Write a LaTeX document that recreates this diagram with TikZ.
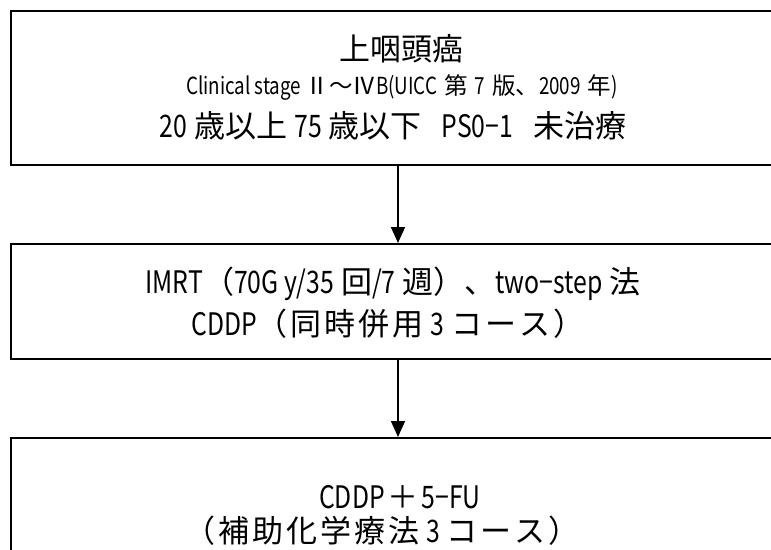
\documentclass[tikz,border=0pt]{standalone}
\usepackage{fontspec}
\setmainfont{Noto Sans CJK JP}
\newfontfamily\latnfont[FakeStretch=0.8]{Noto Sans CJK JP}
\newcommand\la[1]{{\latnfont #1}}
\newcommand\ks{\hspace{3pt}}
\newcommand\ws{\hspace{7pt}}
\usetikzlibrary{arrows.meta}
\begin{document}
\begin{tikzpicture}[x=1pt,y=-1pt,
  box/.style={draw, line width=2pt, minimum width=774pt, inner sep=0pt},
  big/.style={font=\fontsize{31}{34}\selectfont, inner sep=0pt},
  small/.style={font=\fontsize{23.5}{26}\selectfont, inner sep=0pt},
  flow/.style={line width=1.6pt, -{Triangle[width=14pt,length=16pt]}}]
\path[use as bounding box] (0,0) rectangle (771,549);
\clip (0,0) rectangle (771,549);
\node[box, minimum height=154pt] (b1) at (398,88) {};
\node[box, minimum height=115pt] (b2) at (398,301.5) {};
\node[box, minimum height=156pt] (b3) at (398,516) {};
\node[big] (t11) at (401,49) {上咽頭癌};
\node[small] (t12) at (402,88) {\la{Clinical stage }Ⅱ〜Ⅳ\la{B(UICC}\ws 第\ws\la{7}\ws 版、\la{2009}\ws 年\la{)}};
\node[big] (t13) at (393,126) {\la{20}\ws 歳以上\ws\la{75}\ws 歳以下\hspace{20pt}\la{PS0−1}\hspace{20pt}未治療};
\node[big] (t21) at (393,284) {\la{IMRT}（\la{70G y/35}\ws 回\la{/7}\ws 週）、\la{two−step}\ws 法};
\node[big] (t22) at (388,324) {\la{CDDP}（\ks 同\ks 時\ks 併\ks 用\ws\la{3}\ws コ\ks ー\ks ス\ks ）};
\node[big] (t31) at (400,497) {\la{CDDP}\ks＋\ks\la{5−FU}};
\node[big] (t32) at (382,531) {（\ks 補\ks 助\ks 化\ks 学\ks 療\ks 法\ws\la{3}\ws コ\ks ー\ks ス\ks ）};
\draw[flow] (b1.south -| 398,0) -- (b2.north -| 398,0);
\draw[flow] (b2.south -| 398,0) -- (b3.north -| 398,0);
\end{tikzpicture}
\end{document}
